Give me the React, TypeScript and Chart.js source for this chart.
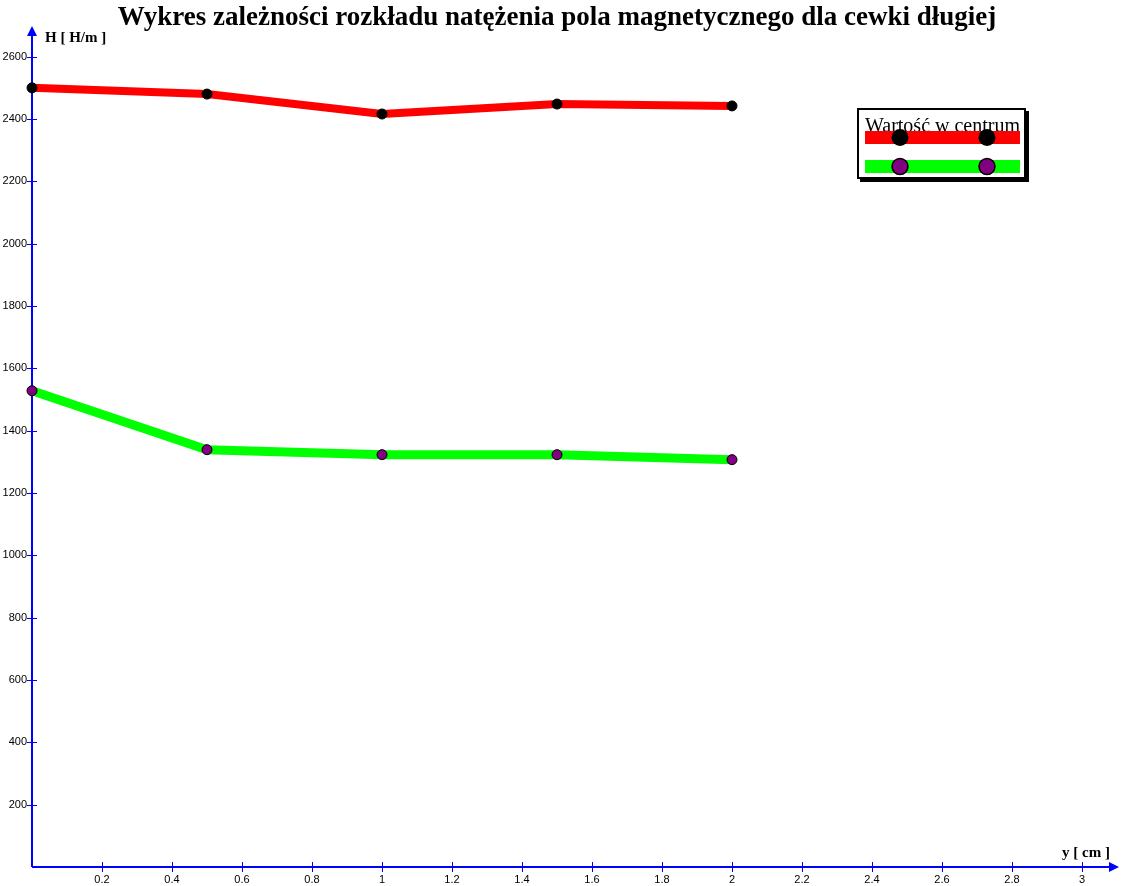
import React, { useEffect, useRef } from "react";
import { Chart, registerables } from "chart.js";

Chart.register(...registerables);

const TITLE = "Wykres zależności rozkładu natężenia pola magnetycznego dla cewki długiej";
const Y_AXIS_LABEL = "H [ H/m ]";
const X_AXIS_LABEL = "y [ cm ]";
const LEGEND_TEXT = "Wartość w centrum";

const xValues = [0, 0.5, 1, 1.5, 2];
const centerValues = [2500, 2480, 2416, 2448, 2442];
const edgeValues = [1528, 1339, 1323, 1323, 1307];

const xTicks = [0.2, 0.4, 0.6, 0.8, 1, 1.2, 1.4, 1.6, 1.8, 2, 2.2, 2.4, 2.6, 2.8, 3];
const yTicks = [200, 400, 600, 800, 1000, 1200, 1400, 1600, 1800, 2000, 2200, 2400, 2600];

const axesPlugin = {
  id: "customAxes",
  beforeDatasetsDraw(chart: any) {
    const ctx = chart.ctx;
    const xs = chart.scales.x;
    const ys = chart.scales.y;
    const x0 = xs.getPixelForValue(0);
    const y0 = ys.getPixelForValue(0);
    const top = chart.chartArea.top;
    const right = chart.chartArea.right;
    ctx.save();
    ctx.strokeStyle = "#0000ff";
    ctx.fillStyle = "#0000ff";
    ctx.lineWidth = 2;
    ctx.beginPath();
    ctx.moveTo(x0, y0);
    ctx.lineTo(x0, top + 6);
    ctx.moveTo(x0, y0);
    ctx.lineTo(right - 6, y0);
    ctx.stroke();
    // arrows
    ctx.beginPath();
    ctx.moveTo(x0, top - 2);
    ctx.lineTo(x0 - 5, top + 8);
    ctx.lineTo(x0 + 5, top + 8);
    ctx.closePath();
    ctx.fill();
    ctx.beginPath();
    ctx.moveTo(right + 2, y0);
    ctx.lineTo(right - 8, y0 - 5);
    ctx.lineTo(right - 8, y0 + 5);
    ctx.closePath();
    ctx.fill();
    // ticks
    ctx.lineWidth = 1;
    ctx.beginPath();
    yTicks.forEach((v) => {
      const p = Math.round(ys.getPixelForValue(v)) + 0.5;
      ctx.moveTo(x0 - 5, p);
      ctx.lineTo(x0 + 5, p);
    });
    xTicks.forEach((v) => {
      const p = Math.round(xs.getPixelForValue(v)) + 0.5;
      ctx.moveTo(p, y0 - 5);
      ctx.lineTo(p, y0 + 5);
    });
    ctx.stroke();
    // tick labels
    ctx.fillStyle = "#000";
    ctx.font = "11px 'Liberation Sans', Arial, sans-serif";
    ctx.textAlign = "right";
    ctx.textBaseline = "middle";
    yTicks.forEach((v) => {
      ctx.fillText(String(v), x0 - 5, ys.getPixelForValue(v));
    });
    ctx.textAlign = "center";
    ctx.textBaseline = "top";
    xTicks.forEach((v) => {
      ctx.fillText(String(v), xs.getPixelForValue(v), y0 + 7);
    });
    // axis labels
    ctx.font = "bold 15px 'Liberation Serif', serif";
    ctx.textAlign = "left";
    ctx.textBaseline = "alphabetic";
    ctx.fillText(Y_AXIS_LABEL, x0 + 13, top + 14);
    ctx.textAlign = "right";
    ctx.fillText(X_AXIS_LABEL, right - 7, y0 - 10);
    // title
    ctx.font = "bold 27px 'Liberation Serif', serif";
    ctx.textAlign = "center";
    ctx.fillText(TITLE, 557, 25);
    ctx.restore();
  },
  afterDatasetsDraw(chart: any) {
    const ctx = chart.ctx;
    ctx.save();
    // legend box shadow + border
    ctx.fillStyle = "#000";
    ctx.fillRect(860, 111, 169, 71);
    ctx.fillStyle = "#fff";
    ctx.fillRect(857, 108, 169, 71);
    ctx.strokeStyle = "#000";
    ctx.lineWidth = 2;
    ctx.strokeRect(858, 109, 167, 69);
    ctx.fillStyle = "#000";
    ctx.font = "20px 'Liberation Serif', serif";
    ctx.textAlign = "left";
    ctx.textBaseline = "alphabetic";
    ctx.fillText(LEGEND_TEXT, 865, 132);
    ctx.fillStyle = "#ff0000";
    ctx.fillRect(865, 131, 155, 13);
    ctx.fillStyle = "#00ff00";
    ctx.fillRect(865, 160, 155, 13);
    [900, 987].forEach((cx) => {
      ctx.fillStyle = "#000";
      ctx.beginPath();
      ctx.arc(cx, 137.5, 8.5, 0, Math.PI * 2);
      ctx.fill();
      ctx.fillStyle = "#800080";
      ctx.strokeStyle = "#000";
      ctx.lineWidth = 1.5;
      ctx.beginPath();
      ctx.arc(cx, 166.5, 8, 0, Math.PI * 2);
      ctx.fill();
      ctx.stroke();
    });
    ctx.restore();
  },
};

export default function App() {
  const ref = useRef<HTMLCanvasElement>(null);
  useEffect(() => {
    document.body.style.margin = "0";
    const chart = new Chart(ref.current!, {
      type: "line",
      data: {
        datasets: [
          {
            label: "Wartość w centrum",
            data: xValues.map((x, i) => ({ x, y: centerValues[i] })),
            borderColor: "#ff0000",
            borderWidth: 8,
            pointRadius: 5,
            pointBackgroundColor: "#000",
            pointBorderColor: "#000",
            pointBorderWidth: 1,
            tension: 0,
            clip: false as any,
          },
          {
            label: "",
            data: xValues.map((x, i) => ({ x, y: edgeValues[i] })),
            borderColor: "#00ff00",
            borderWidth: 9,
            pointRadius: 5,
            pointBackgroundColor: "#800080",
            pointBorderColor: "#000",
            pointBorderWidth: 1,
            tension: 0,
            clip: false as any,
          },
        ],
      },
      options: {
        animation: false,
        responsive: false,
        layout: { padding: { left: 32, right: 15, top: 28, bottom: 19 } },
        plugins: { legend: { display: false }, title: { display: false }, tooltip: { enabled: false } },
        scales: {
          x: { type: "linear", min: 0, max: 3.1, display: false },
          y: { type: "linear", min: 0, max: 2692, display: false },
        },
      },
      plugins: [axesPlugin],
    });
    return () => chart.destroy();
  }, []);
  return (
    <div style={{ width: 1132, height: 886, background: "#fff" }}>
      <canvas ref={ref} width={1132} height={886} style={{ display: "block" }} />
    </div>
  );
}
